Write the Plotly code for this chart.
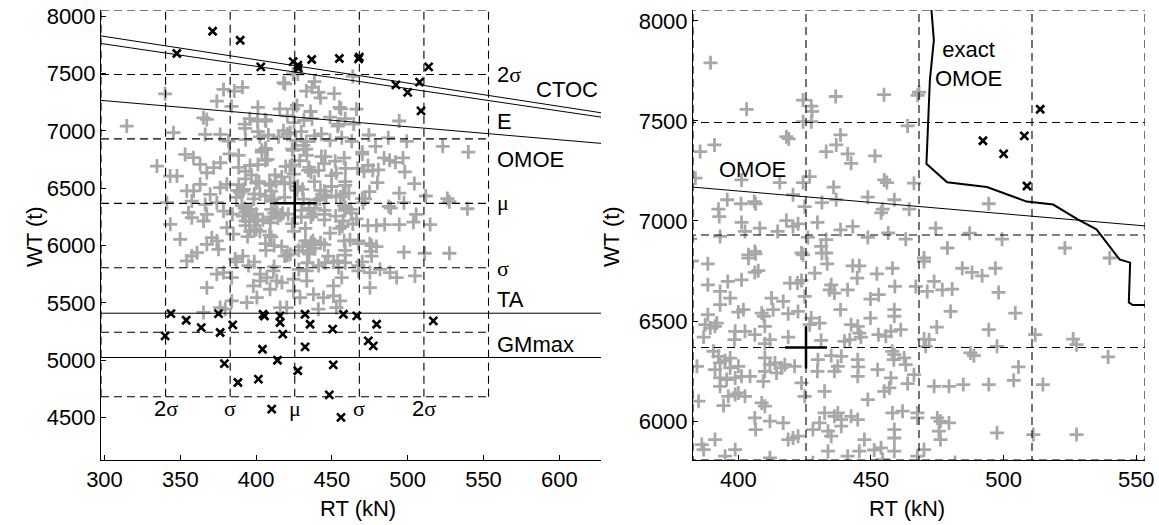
import plotly.graph_objects as go

# ---- design statistics (mean and standard deviation) ----
rt_mean, rt_sd = 425.5, 42.6
wt_mean, wt_sd = 6368.0, 562.0

# ---- sampled designs (RT in kN, WT in t) ----
upper_rt = [424.4, 427.5, 418.1, 419.0, 438.5, 436.9, 433.1, 441.2, 442.5, 451.5,
            391.0, 385.6, 383.8, 401.2, 415.6, 424.4, 426.9, 435.9, 455.0, 456.0,
            395.8, 401.0, 406.0, 406.5, 420.6, 425.0, 431.5, 436.9, 448.8, 454.4,
            458.8, 392.5, 392.8, 393.1, 401.2, 402.5, 408.1, 414.8, 418.1, 420.6,
            422.5, 429.8, 426.2, 433.1, 431.2, 438.5, 443.1, 448.8, 456.5, 453.8,
            403.8, 406.2, 423.8, 433.1, 463.8, 466.2, 464.4, 494.4, 474.4, 463.1,
            478.8, 487.2, 499.4, 523.1, 470.0, 540.0, 340.0, 314.7, 345.5, 365.3,
            367.5, 374.1, 378.5, 366.4, 376.3, 353.2, 358.7, 381.8, 382.5]
upper_wt = [7496, 7496, 7421, 7410, 7430, 7380, 7347, 7335, 7288, 7325,
            7380, 7347, 7214, 7205, 7192, 7192, 7222, 7169, 7205, 7192,
            7106, 7086, 7097, 7086, 7131, 7072, 7092, 7106, 7119, 7059,
            7106, 7059, 7022, 6923, 6993, 6948, 6964, 6948, 7002, 6973,
            6986, 6993, 6918, 6907, 6873, 6956, 6973, 6918, 6940, 7041,
            6831, 6848, 6840, 6840, 7475, 7189, 7059, 7086, 6964, 6909,
            6865, 6939, 6909, 6865, 6815, 6815, 7323, 7042, 6984, 7114,
            7100, 7259, 7361, 6969, 6969, 6795, 6766, 6911, 6800]

middle_rt = [388.5, 403.8, 406.5, 406.2, 407.5, 424.4, 431.5, 433.5, 443.1, 445.6,
             452.2, 458.1, 388.5, 393.1, 396.0, 401.2, 396.9, 419.5, 423.8, 422.3,
             428.8, 435.0, 434.4, 436.2, 441.2, 444.8, 452.9, 449.8, 459.0, 412.5,
             416.9, 425.0, 393.1, 401.9, 400.0, 408.8, 413.1, 418.8, 422.5, 427.5,
             426.9, 430.6, 438.5, 442.5, 445.0, 445.6, 449.8, 452.8, 455.6, 458.8,
             388.5, 387.5, 389.4, 391.2, 391.9, 386.9, 398.8, 398.5, 402.5, 406.2,
             410.0, 409.6, 411.9, 410.0, 418.8, 431.2, 440.0, 442.0, 446.2, 470.0,
             466.9, 471.2, 473.8, 476.9, 480.6, 484.4, 488.1, 491.9, 496.9, 498.1,
             458.8, 480.0, 474.8, 504.4, 494.4, 457.5, 461.2, 470.0, 471.9, 470.6,
             497.5, 511.9, 526.2, 527.5, 334.6, 363.1, 343.3, 347.8, 367.5, 372.0,
             376.5, 358.8, 363.1, 376.3, 354.3, 369.7, 380.7, 357.6, 341.2, 366.4,
             374.1]
middle_wt = [6786, 6814, 6836, 6743, 6752, 6831, 6839, 6786, 6776, 6776,
             6736, 6764, 6681, 6648, 6698, 6706, 6615, 6690, 6703, 6690,
             6740, 6681, 6656, 6640, 6656, 6715, 6632, 6610, 6673, 6615,
             6598, 6623, 6582, 6557, 6545, 6540, 6557, 6537, 6548, 6515,
             6482, 6490, 6557, 6482, 6474, 6440, 6515, 6432, 6424, 6557,
             6532, 6482, 6465, 6474, 6490, 6420, 6449, 6407, 6449, 6432,
             6474, 6524, 6407, 6387, 6420, 6404, 6399, 6407, 6420, 6798,
             6673, 6648, 6698, 6656, 6660, 6764, 6743, 6726, 6764, 6643,
             6524, 6548, 6470, 6540, 6457, 6449, 6457, 6410, 6407, 6374,
             6374, 6432, 6410, 6382, 6693, 6708, 6606, 6606, 6635, 6680,
             6722, 6476, 6534, 6505, 6476, 6447, 6534, 6388, 6374, 6359,
             6374]

lower_rt = [384.4, 390.6, 392.5, 393.1, 391.2, 395.0, 396.9, 396.9, 400.0, 393.1,
            395.6, 398.8, 401.2, 404.4, 393.1, 396.2, 398.8, 400.0, 402.5, 394.4,
            385.0, 410.0, 411.9, 413.8, 416.2, 417.5, 410.0, 409.4, 414.4, 421.2,
            423.8, 425.0, 430.0, 429.8, 435.0, 438.8, 436.2, 437.5, 432.5, 445.0,
            445.2, 445.0, 452.5, 458.0, 458.6, 457.5, 455.0, 456.9, 448.8, 408.8,
            410.0, 406.2, 406.5, 411.9, 416.9, 418.8, 420.6, 422.5, 428.1, 430.6,
            432.5, 436.2, 437.5, 438.8, 433.8, 435.0, 438.8, 442.5, 445.0, 447.5,
            453.8, 458.1, 458.8, 386.2, 386.9, 391.2, 398.8, 395.0, 411.9, 433.8,
            441.2, 445.6, 451.2, 454.4, 458.8, 487.5, 488.8, 539.4, 458.8, 462.5,
            463.1, 466.2, 505.6, 503.8, 514.8, 463.8, 473.8, 479.4, 484.8, 494.4,
            461.9, 467.5, 467.5, 475.0, 476.2, 479.4, 475.6, 476.2, 458.8, 497.5,
            511.2, 527.5, 470.0, 467.5, 343.4, 349.9, 354.3, 357.6, 361.0, 355.4,
            357.6, 367.5, 378.5, 370.8, 374.1, 375.2, 367.5, 380.7, 365.3]
lower_wt = [6274, 6349, 6324, 6291, 6257, 6302, 6315, 6266, 6274, 6216,
            6208, 6216, 6224, 6224, 6174, 6124, 6133, 6141, 6124, 6078,
            6100, 6316, 6282, 6291, 6266, 6282, 6249, 6199, 6241, 6274,
            6191, 6124, 6307, 6249, 6327, 6324, 6249, 6274, 6149, 6307,
            6271, 6224, 6257, 6349, 6307, 6216, 6149, 6166, 6108, 6091,
            6075, 6016, 5958, 6000, 5991, 5908, 5916, 5925, 5958, 5991,
            6041, 6024, 6041, 6008, 5950, 5925, 5975, 6024, 6008, 5908,
            5867, 6041, 5958, 5883, 5858, 5908, 5858, 5825, 5817, 5850,
            5825, 5850, 5856, 5809, 5850, 6341, 6327, 6321, 6332, 6316,
            6282, 6232, 6271, 6204, 6183, 6188, 6174, 6174, 6183, 6183,
            6050, 6041, 6016, 6016, 5999, 5991, 5950, 5908, 5916, 5942,
            5933, 5933, 5858, 5825, 6185, 6054, 5866, 5909, 5938, 6287,
            6243, 6272, 6301, 6069, 6040, 5967, 6011, 6156, 6214]

tail_rt = [428.1, 374.1, 378.5, 367.5, 365.3, 376.3, 379.6, 383.9, 383.9, 402.7,
           407.1, 411.4, 413.6, 409.2, 402.7, 417.0, 424.7, 424.7, 429.0, 433.4,
           415.9, 420.2, 393.9, 400.5, 398.2, 433.4, 467.5, 475.1, 481.7, 488.3,
           492.7, 504.8, 475.1, 451.0, 456.5, 444.4, 451.0, 437.8, 455.4, 453.0,
           441.1]
tail_wt = [5792, 5750, 5764, 5633, 5416, 5459, 5445, 5720, 5517, 5750,
           5721, 5779, 5692, 5619, 5692, 5677, 5706, 5604, 5546, 5692,
           5459, 5459, 5503, 5546, 5648, 5779, 5779, 5764, 5793, 5764,
           5721, 5735, 5633, 5648, 5721, 5546, 5561, 5575, 5517, 5459,
           5445]

# designs heavier than the CTOC limit
ctoc_rt = [347.7, 371.3, 389.5, 403.1, 424.4, 427.5, 427.8, 436.7, 454.9, 468.1, 467.6]
ctoc_wt = [7675, 7869, 7790, 7558, 7604, 7574, 7548, 7622, 7631, 7643, 7628]

# designs beyond the exact OMOE boundary
exact_rt = [492.2, 500.0, 507.8, 513.8, 508.8]
exact_wt = [7401, 7335, 7425, 7558, 7175]

# designs below the TA limit
ta_rt = [343.8, 340.0, 353.9, 363.8, 375.2, 376.3, 384.6, 379.1, 388.0, 401.5,
         404.2, 404.6, 405.5, 410.3, 414.1, 415.8, 415.8, 417.6, 427.5, 432.3,
         435.6, 432.3, 450.5, 450.9, 448.3, 456.0, 457.6, 466.4, 479.5, 516.9,
         474.0, 477.3]
ta_wt = [5407, 5212, 5349, 5285, 5407, 5242, 5308, 4971, 4806, 4835,
         5096, 5401, 5386, 4574, 5000, 5387, 5329, 5227, 4908, 5401,
         5314, 5117, 5271, 4960, 4698, 4501, 5401, 5387, 5314, 5343,
         5169, 5125]

# ---- constraint boundaries ----
line_rt = [297.7, 627.5]
ctoc_line_wt = [7828, 7158]
e_line_wt = [7762, 7120]
omoe_line_wt = [7266, 6891]
ta_limit = 5410
gm_limit = 5024

exact_omoe_rt = [472.7, 473.7, 472.2, 470.9, 478.7, 493.7, 508.7, 518.7, 528.1,
                 535.0, 543.7, 547.7, 547.2, 548.7, 554.0]
exact_omoe_wt = [8070, 7903, 7704, 7286, 7193, 7170, 7097, 7082, 7007,
                 6958, 6808, 6792, 6593, 6580, 6580]

cloud_rt = upper_rt + middle_rt + lower_rt + tail_rt
cloud_wt = upper_wt + middle_wt + lower_wt + tail_wt

GRAY = "#a8a8a8"
SANS = "Liberation Sans"
SERIF = "Liberation Serif"
FS = 22

plus_marker = dict(symbol="cross-thin", size=10, color=GRAY, line=dict(width=2.8, color=GRAY))
x_marker = dict(symbol="x-thin", size=8, color="black", line=dict(width=2.6, color="black"))
dash_line = dict(color="black", width=1.1, dash="8px,5px")
thin_line = dict(color="black", width=1)


def sigma_grid():
    """Dashed mean +/- k*sigma box lines for both variables."""
    xs, ys = [], []
    w_lo, w_hi = wt_mean - 3 * wt_sd, wt_mean + 3 * wt_sd
    r_lo, r_hi = rt_mean - 3 * rt_sd, rt_mean + 3 * rt_sd
    for k in range(-3, 4):
        r = rt_mean + k * rt_sd
        xs += [r, r, None]
        ys += [w_lo, w_hi, None]
    for k in range(-3, 4):
        w = wt_mean + k * wt_sd
        xs += [r_lo, r_hi, None]
        ys += [w, w, None]
    return xs, ys


fig = go.Figure()
gx, gy = sigma_grid()
mean_marker = dict(symbol="cross-thin", size=30, color="black", line=dict(width=2.5, color="black"))

# ---------------- left panel ----------------
fig.add_trace(go.Scatter(x=cloud_rt, y=cloud_wt, mode="markers", marker=plus_marker,
                         xaxis="x", yaxis="y"))
fig.add_trace(go.Scatter(x=gx, y=gy, mode="lines", line=dash_line, xaxis="x", yaxis="y"))
for wts in (ctoc_line_wt, e_line_wt, omoe_line_wt):
    fig.add_trace(go.Scatter(x=line_rt, y=wts, mode="lines", line=thin_line, xaxis="x", yaxis="y"))
for lim in (ta_limit, gm_limit):
    fig.add_trace(go.Scatter(x=line_rt, y=[lim, lim], mode="lines", line=thin_line,
                             xaxis="x", yaxis="y"))
fig.add_trace(go.Scatter(x=ctoc_rt + exact_rt + ta_rt, y=ctoc_wt + exact_wt + ta_wt,
                         mode="markers", marker=x_marker, xaxis="x", yaxis="y"))
fig.add_trace(go.Scatter(x=[rt_mean], y=[wt_mean], mode="markers", marker=mean_marker,
                         xaxis="x", yaxis="y"))

# ---------------- right panel ----------------
fig.add_trace(go.Scatter(x=cloud_rt + ctoc_rt, y=cloud_wt + ctoc_wt, mode="markers",
                         marker=plus_marker, xaxis="x2", yaxis="y2"))
fig.add_trace(go.Scatter(x=gx, y=gy, mode="lines", line=dash_line, xaxis="x2", yaxis="y2"))
fig.add_trace(go.Scatter(x=line_rt, y=omoe_line_wt, mode="lines", line=thin_line,
                         xaxis="x2", yaxis="y2"))
fig.add_trace(go.Scatter(x=exact_omoe_rt, y=exact_omoe_wt, mode="lines",
                         line=dict(color="black", width=2), xaxis="x2", yaxis="y2"))
fig.add_trace(go.Scatter(x=exact_rt, y=exact_wt, mode="markers", marker=x_marker,
                         xaxis="x2", yaxis="y2"))
fig.add_trace(go.Scatter(x=[rt_mean], y=[wt_mean], mode="markers", marker=mean_marker,
                         xaxis="x2", yaxis="y2"))


def greek(prefix, letter):
    return f'{prefix}<span style="font-family:{SERIF}">{letter}</span>'


annotations = []


def label(text, x, y, xref="x", yref="y", xanchor="left", **kw):
    annotations.append(dict(text=text, x=x, y=y, xref=xref, yref=yref, xanchor=xanchor,
                            yanchor="middle", showarrow=False,
                            font=dict(family=SANS, size=FS, color="black"), **kw))


# right-hand labels of the left panel
label_x = 557.7
label(greek("2", "σ"), label_x, 7495)
label("CTOC", label_x + 25.7, 7364)
label("E", label_x, 7085)
label("OMOE", label_x, 6752)
label(greek("", "μ"), label_x, 6375)
label(greek("", "σ"), label_x, 5800)
label("TA", label_x, 5532)
label("GMmax", label_x, 5140)

# bottom labels of the left panel
for k, txt in ((-2, greek("2", "σ")), (-1, greek("", "σ")), (0, greek("", "μ")),
               (1, greek("", "σ")), (2, greek("2", "σ"))):
    label(txt, rt_mean + k * rt_sd, 4575, xanchor="center")

# right panel labels
label("OMOE", 391.9, 7255, xref="x2", yref="y2")
label("exact<br>OMOE", 486.9, 7782, xref="x2", yref="y2", xanchor="center")

# axis titles
label("RT (kN)", 358 / 1159, 0.0305, xref="paper", yref="paper", xanchor="center")
label("RT (kN)", 907 / 1159, 0.0305, xref="paper", yref="paper", xanchor="center")
label("WT (t)", 35 / 1159, 0.5486, xref="paper", yref="paper", xanchor="center", textangle=-90)
label("WT (t)", 612 / 1159, 0.5486, xref="paper", yref="paper", xanchor="center", textangle=-90)

axis_style = dict(showline=True, linecolor="black", linewidth=1, ticks="inside", ticklen=5,
                  tickwidth=1, tickcolor="black", showgrid=False, zeroline=False,
                  automargin=False,
                  tickfont=dict(family=SANS, size=FS, color="black"))
ydom = [65 / 525, 515 / 525]

fig.update_layout(
    width=1159, height=525,
    margin=dict(l=0, r=0, t=0, b=0, pad=0, autoexpand=False),
    paper_bgcolor="white", plot_bgcolor="white", showlegend=False,
    annotations=annotations,
    xaxis=dict(domain=[101 / 1159, 601 / 1159], range=[297.7, 627.5],
               tickvals=[300, 350, 400, 450, 500, 550, 600], anchor="y", **axis_style),
    yaxis=dict(domain=ydom, range=[4130, 8054],
               tickvals=[4500, 5000, 5500, 6000, 6500, 7000, 7500, 8000], anchor="x", **axis_style),
    xaxis2=dict(domain=[693 / 1159, 1145 / 1159], range=[382.9, 553.3],
                tickvals=[400, 450, 500, 550], anchor="y2", **axis_style),
    yaxis2=dict(domain=ydom, range=[5806, 8054],
                tickvals=[6000, 6500, 7000, 7500, 8000], anchor="x2", **axis_style),
)

fig.write_html("out.html")
